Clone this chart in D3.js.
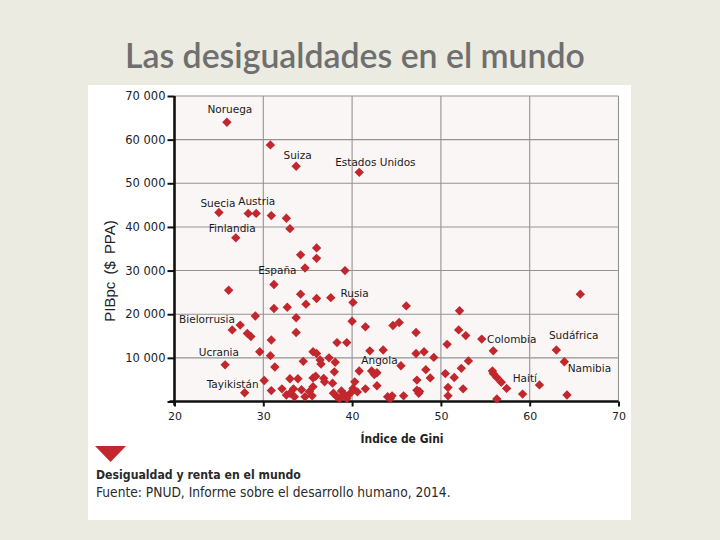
<!DOCTYPE html>
<html><head><meta charset="utf-8">
<script src="https://cdn.jsdelivr.net/npm/d3@7"></script>
<style>
html,body{margin:0;padding:0;background:#ecebe1;}
svg{display:block;}
</style></head><body>
<svg id="chart" width="720" height="540"></svg>
<script>
// ---- DATA ----
const gini = [25.9,30.8,33.7,40.8,25.0,28.3,29.2,30.9,32.6,33.0,26.9,36.0,34.2,36.0,34.7,39.2,26.1,31.2,34.2,36.0,
  37.6,40.1,46.1,65.7,32.7,31.2,34.8,52.1,33.7,29.1,40.0,27.4,26.5,28.2,28.6,33.7,41.5,44.6,45.3,47.2,
  52.0,52.8,30.9,38.3,39.4,50.7,54.6,55.9,63.0,29.6,30.8,35.6,36.0,36.4,36.5,37.4,38.1,42.0,43.5,47.2,
  48.1,49.2,34.5,25.7,31.3,53.1,63.9,45.5,48.3,52.3,40.8,42.2,42.8,42.5,38.0,55.8,55.9,50.5,51.5,56.3,
  48.8,47.3,35.6,35.9,36.8,36.9,33.0,33.9,30.1,37.8,40.3,56.8,42.8,61.1,35.6,57.4,50.8,52.5,41.5,47.3,
  32.1,33.4,30.9,27.9,33.0,33.5,34.7,35.2,35.5,37.9,38.3,38.8,39.2,39.8,40.1,47.5,47.6,45.8,44.0,44.3,
  50.8,56.3,59.2,64.2,32.6,39.4,38.6,44.5,40.6,34.3];
const pib = [64000,58800,53900,52500,43300,43100,43100,42600,42000,39600,37500,35200,33600,32800,30600,30000,25500,26800,24600,23600,
  23800,22700,21900,24600,21600,21300,22300,20800,19200,19600,18400,17500,16400,15600,14900,15800,17100,17400,18100,15800,
  16400,15100,14100,13500,13500,13100,14300,11600,11800,11400,10500,11400,11000,9500,8600,10000,9000,11600,11800,11000,
  11400,10100,9200,8400,7900,9300,9100,8200,7300,7600,7000,7000,6600,6200,6800,7000,6400,6400,5500,5500,
  5400,4900,5400,5800,5300,4500,5200,5200,4800,4200,4500,4400,3600,3800,3400,3000,3200,2900,2900,2600,
  2900,2900,2500,2000,1900,1100,1100,2300,1300,1900,1100,2400,1500,1900,3000,1900,2300,1300,1100,700,
  1300,600,1700,1500,1500,700,700,1300,2200,2700];

const labelNames = ["Noruega","Suiza","Estados Unidos","Suecia","Austria","Finlandia","España","Bielorrusia",
  "Ucrania","Tayikistán","Rusia","Angola","Colombia","Sudáfrica","Namibia","Haití"];
const labelGini = [25.9,33.7,40.8,25.0,28.3,26.9,34.7,26.5,25.7,30.9,40.1,42.8,54.6,63.0,63.9,59.2];
const labelPib  = [64000,53900,52500,43300,43100,37500,30600,16400,8400,2500,22700,6600,14300,11800,9100,1700];

const xTicks = [20,30,40,50,60,70];
const yTicks = [0,10000,20000,30000,40000,50000,60000,70000];

const chartTitle = "Las desigualdades en el mundo";
const xTitle = "Índice de Gini";
const yTitle = "PIBpc ($ PPA)";
const captionTitle = "Desigualdad y renta en el mundo";
const captionSource = "Fuente: PNUD, Informe sobre el desarrollo humano, 2014.";

// ---- LAYOUT ----
const svg = d3.select("#chart");
const plot = {left:174.5, right:618.5, top:96, bottom:401.5};
const x = d3.scaleLinear().domain([20,70]).range([plot.left, plot.right]);
const y = d3.scaleLinear().domain([0,70000]).range([plot.bottom, plot.top]);
const fmt = d3.formatLocale({decimal:",", thousands:" ", grouping:[3], currency:["",""]}).format(",d");

function fit(sel, target){
  const w = sel.node().getComputedTextLength();
  const fs = parseFloat(sel.attr("font-size"));
  if (w > 0) sel.attr("font-size", fs*target/w);
}

// background panel
svg.append("rect").attr("x",88).attr("y",85).attr("width",543).attr("height",435).attr("fill","#ffffff");

// title
const t = svg.append("text").attr("x",125).attr("y",68)
  .attr("font-family","Lato, 'Open Sans', sans-serif").attr("font-size",30).attr("font-weight",600)
  .attr("fill","#6f6f6f").text(chartTitle);
fit(t, 460);

// plot background
svg.append("rect").attr("x",plot.left).attr("y",plot.top)
  .attr("width",plot.right-plot.left).attr("height",plot.bottom-plot.top).attr("fill","#fbf6f6");

// grid
svg.append("g").selectAll("line").data(yTicks.filter(d=>d>0)).join("line")
  .attr("x1",plot.left).attr("x2",plot.right).attr("y1",d=>y(d)).attr("y2",d=>y(d))
  .attr("stroke","#939393").attr("stroke-width",1.1);
svg.append("g").selectAll("line").data(xTicks.filter(d=>d>20)).join("line")
  .attr("y1",plot.top).attr("y2",plot.bottom).attr("x1",d=>x(d)).attr("x2",d=>x(d))
  .attr("stroke","#939393").attr("stroke-width",1.1);

// axes
const yAxis = svg.append("g").attr("transform",`translate(${plot.left},0)`)
  .call(d3.axisLeft(y).tickValues(yTicks).tickSize(7).tickPadding(2).tickFormat(d=>d===0?"":fmt(d)));
const xAxis = svg.append("g").attr("transform",`translate(0,${plot.bottom})`)
  .call(d3.axisBottom(x).tickValues(xTicks).tickSize(5).tickPadding(6).tickFormat(d3.format("d")));
[yAxis,xAxis].forEach(a=>{
  a.select(".domain").attr("stroke","#111").attr("stroke-width",2.6);
  a.selectAll(".tick line").attr("stroke","#111").attr("stroke-width",2);
  a.selectAll("text").attr("font-family","'DejaVu Sans', sans-serif").attr("fill","#222");
});
yAxis.select(".domain").attr("d",`M0,${plot.top}V${plot.bottom+4}`);
xAxis.select(".domain").attr("d",`M${plot.left-5},0H${plot.right}`);
yAxis.selectAll("text").attr("font-size",11.5);
xAxis.selectAll("text").attr("font-size",11);

// axis titles
const yt = svg.append("text").attr("transform","translate(115,271) rotate(-90)")
  .attr("text-anchor","middle").attr("font-family","'Liberation Sans', Arial, sans-serif")
  .attr("font-size",14).attr("fill","#222").attr("word-spacing",3).text(yTitle);
fit(yt, 102);
const xt = svg.append("text").attr("x",402).attr("y",443).attr("text-anchor","middle")
  .attr("font-family","'Liberation Sans Narrow','DejaVu Sans Condensed', sans-serif")
  .attr("font-weight","bold").attr("font-size",14).attr("fill","#222").text(xTitle);
fit(xt, 83);

// points
const pts = gini.map((g,i)=>({g, v:pib[i]}));
svg.append("g").selectAll("path").data(pts).join("path")
  .attr("d", d3.symbol().type(d3.symbolSquare).size(44))
  .attr("transform", d=>`translate(${x(d.g)},${y(d.v)}) rotate(45)`)
  .attr("fill","#c1272d");

// country labels
const labelLayout = {
  "Noruega":{a:"middle",dx:3,dy:-9},
  "Suiza":{a:"middle",dx:1.5,dy:-7},
  "Estados Unidos":{a:"start",dx:-24,dy:-6},
  "Suecia":{a:"middle",dx:-1,dy:-6},
  "Austria":{a:"start",dx:-10,dy:-8},
  "Finlandia":{a:"middle",dx:-3.5,dy:-6},
  "España":{a:"end",dx:-8.5,dy:6.5},
  "Bielorrusia":{a:"end",dx:2.7,dy:-7.4},
  "Ucrania":{a:"middle",dx:-6.3,dy:-9},
  "Tayikistán":{a:"end",dx:-12.7,dy:-2.4},
  "Rusia":{a:"middle",dx:1.6,dy:-5.6},
  "Angola":{a:"middle",dx:2.5,dy:-8.4},
  "Colombia":{a:"start",dx:5.3,dy:3.7},
  "Sudáfrica":{a:"start",dx:-7.4,dy:-10.7},
  "Namibia":{a:"start",dx:3.3,dy:10},
  "Haití":{a:"middle",dx:2.2,dy:-12.3}
};
svg.append("g").selectAll("text").data(labelNames).join("text")
  .attr("x",(n,i)=>x(labelGini[i])+labelLayout[n].dx)
  .attr("y",(n,i)=>y(labelPib[i])+labelLayout[n].dy)
  .attr("text-anchor",n=>labelLayout[n].a)
  .attr("font-family","'DejaVu Sans', sans-serif").attr("font-size",10.5)
  .attr("fill","#1a1a1a").text(n=>n);

// caption
svg.append("path").attr("d","M95,446L126,446L110.5,462Z").attr("fill","#c1272d");
const c1 = svg.append("text").attr("x",96).attr("y",479)
  .attr("font-family","'Liberation Sans Narrow','DejaVu Sans Condensed', sans-serif")
  .attr("font-weight","bold").attr("font-size",14).attr("fill","#2a2a2a").text(captionTitle);
fit(c1, 205);
const c2 = svg.append("text").attr("x",96).attr("y",497)
  .attr("font-family","'Liberation Sans Narrow','DejaVu Sans Condensed', sans-serif")
  .attr("font-size",14).attr("fill","#2a2a2a").text(captionSource);
fit(c2, 355);
</script>
</body></html>
